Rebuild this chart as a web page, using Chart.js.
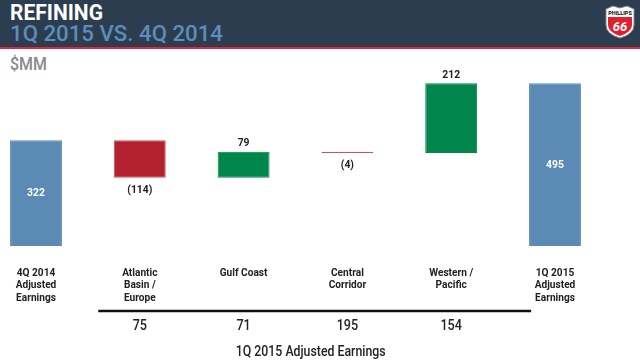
<!DOCTYPE html>
<html>
<head>
<meta charset="utf-8">
<script src="https://cdn.jsdelivr.net/npm/chart.js@4.4.0/dist/chart.umd.min.js"></script>
<style>
  html, body { margin: 0; padding: 0; background: #fff; }
  body { width: 640px; height: 362px; position: relative; overflow: hidden; font-family: Roboto, "Liberation Sans", sans-serif; }
  #header { position: absolute; left: 0; top: 0; width: 640px; height: 47px;
            background: #2b3d4e; border-bottom: 2px solid #e0263a; }
  .fit { position: absolute; left: 10px; white-space: nowrap; transform-origin: 0 0; line-height: 1; }
  #title { top: 1px; color: #fff; font-size: 22.5px; font-weight: bold; }
  #subtitle { top: 23px; color: #5b8dbd; font-size: 22px; font-weight: 500; }
  #unit { top: 55px; color: #8a8a8a; font-size: 18px; font-weight: 500; }
  #logo { position: absolute; left: 603px; top: 5px; }
  #chart { position: absolute; left: 0; top: 0; }
</style>
</head>
<body>
<div id="header">
  <div id="title" class="fit" data-w="93">REFINING</div>
  <div id="subtitle" class="fit" data-w="213">1Q 2015 VS. 4Q 2014</div>
  <svg id="logo" width="34" height="34" viewBox="0 0 34 34">
    <path d="M3 4 L10 1 L17 3 L24 1 L31 4 L31 20 Q31 29 17 33 Q3 29 3 20 Z" fill="#fff" stroke="#888" stroke-width="1"/>
    <path d="M5 12 L29 12 L29 20 Q29 27 17 31 Q5 27 5 20 Z" fill="#e0202e"/>
    <text x="17" y="10" font-size="5.5" font-weight="bold" text-anchor="middle" fill="#000" font-family="Roboto, sans-serif">PHILLIPS</text>
    <text x="17" y="26" font-size="13" font-weight="bold" font-style="italic" text-anchor="middle" fill="#fff" font-family="Roboto, sans-serif">66</text>
  </svg>
</div>
<div id="unit" class="fit" data-w="37">$MM</div>
<canvas id="chart" width="640" height="362"></canvas>
<script>
const categories = [
  ['4Q 2014', 'Adjusted', 'Earnings'],
  ['Atlantic', 'Basin /', 'Europe'],
  ['Gulf Coast'],
  ['Central', 'Corridor'],
  ['Western /', 'Pacific'],
  ['1Q 2015', 'Adjusted', 'Earnings']
]
const changes = [322, -114, 79, -4, 212, 495]
const kinds = ['total', 'delta', 'delta', 'delta', 'delta', 'total']
const regionEarnings = ['', '75', '71', '195', '154', '']
const footerLabel = '1Q 2015 Adjusted Earnings'

const BLUE = '#5b8bb5'
const RED = '#b3202e'
const GREEN = '#00854a'
const FONT = 'Roboto, "Liberation Sans", sans-serif'

// squeeze header texts to the condensed widths of the slide font
document.querySelectorAll('.fit').forEach(el => {
  const w = el.getBoundingClientRect().width
  el.style.transform = 'scaleX(' + (el.dataset.w / w) + ')'
})

// build floating ranges for the waterfall
let running = 0
const ranges = changes.map((v, i) => {
  if (kinds[i] === 'total') { running = v; return [0, v] }
  const start = running
  running += v
  return [start, running]
})
const colors = changes.map((v, i) => kinds[i] === 'total' ? BLUE : (v < 0 ? RED : GREEN))
const borderColors = changes.map((v, i) => kinds[i] === 'total' ? BLUE : (v < 0 ? '#d0505c' : GREEN))

function fmt(v) {
  return v < 0 ? '(' + Math.abs(v) + ')' : String(v)
}

// narrow text, to mimic the condensed slide font
function narrowText(ctx, t, x, y, sx) {
  ctx.save()
  ctx.translate(x, y)
  ctx.scale(sx, 1)
  ctx.fillText(t, 0, 0)
  ctx.restore()
}

const labelsPlugin = {
  id: 'waterfallLabels',
  afterDatasetsDraw(chart) {
    const ctx = chart.ctx
    const x = chart.scales.x
    const y = chart.scales.y
    const meta = chart.getDatasetMeta(0)
    ctx.save()
    ctx.textAlign = 'center'
    ctx.textBaseline = 'middle'

    // value labels
    ctx.font = 'bold 11.5px ' + FONT
    meta.data.forEach((bar, i) => {
      const v = changes[i]
      const top = Math.min(bar.y, bar.base)
      const bottom = Math.max(bar.y, bar.base)
      let ty
      if (kinds[i] === 'total') {
        ctx.fillStyle = '#fff'
        ty = (top + bottom) / 2
      } else if (v < 0) {
        ctx.fillStyle = '#222'
        ty = bottom + 12
      } else {
        ctx.fillStyle = '#222'
        ty = top - 8.5
      }
      narrowText(ctx, fmt(v), bar.x, ty, 0.9)
    })

    // category labels
    ctx.fillStyle = '#222'
    ctx.font = 'bold 11.5px ' + FONT
    const base = y.getPixelForValue(0)
    categories.forEach((lines, i) => {
      const cx = x.getPixelForValue(i)
      lines.forEach((t, j) => narrowText(ctx, t, cx, base + 27 + j * 12.5, 0.88))
    })

    // divider line under the regional segments
    const left = x.getPixelForValue(0.6)
    const right = x.getPixelForValue(4.77)
    ctx.strokeStyle = '#111'
    ctx.lineWidth = 2.5
    ctx.beginPath()
    ctx.moveTo(left, base + 65)
    ctx.lineTo(right, base + 65)
    ctx.stroke()

    // regional 1Q 2015 earnings
    ctx.font = '500 14px ' + FONT
    regionEarnings.forEach((t, i) => {
      if (t) narrowText(ctx, t, x.getPixelForValue(i), base + 80, 0.9)
    })
    narrowText(ctx, footerLabel, (left + right) / 2 - 4, base + 106, 0.88)
    ctx.restore()
  }
}

new Chart(document.getElementById('chart'), {
  type: 'bar',
  data: {
    labels: categories.map(c => c.join(' ')),
    datasets: [{
      data: ranges,
      backgroundColor: colors,
      borderColor: borderColors,
      borderWidth: 1,
      borderSkipped: false,
      barPercentage: 0.5,
      categoryPercentage: 1,
      clip: false,
    }]
  },
  options: {
    responsive: false,
    animation: false,
    layout: { padding: { left: 36, right: 85, top: 62, bottom: 116 } },
    plugins: { legend: { display: false }, tooltip: { enabled: false } },
    scales: {
      x: { display: false, offset: false },
      y: { display: false, min: 0, max: 560 }
    }
  },
  plugins: [labelsPlugin]
})
</script>
</body>
</html>
